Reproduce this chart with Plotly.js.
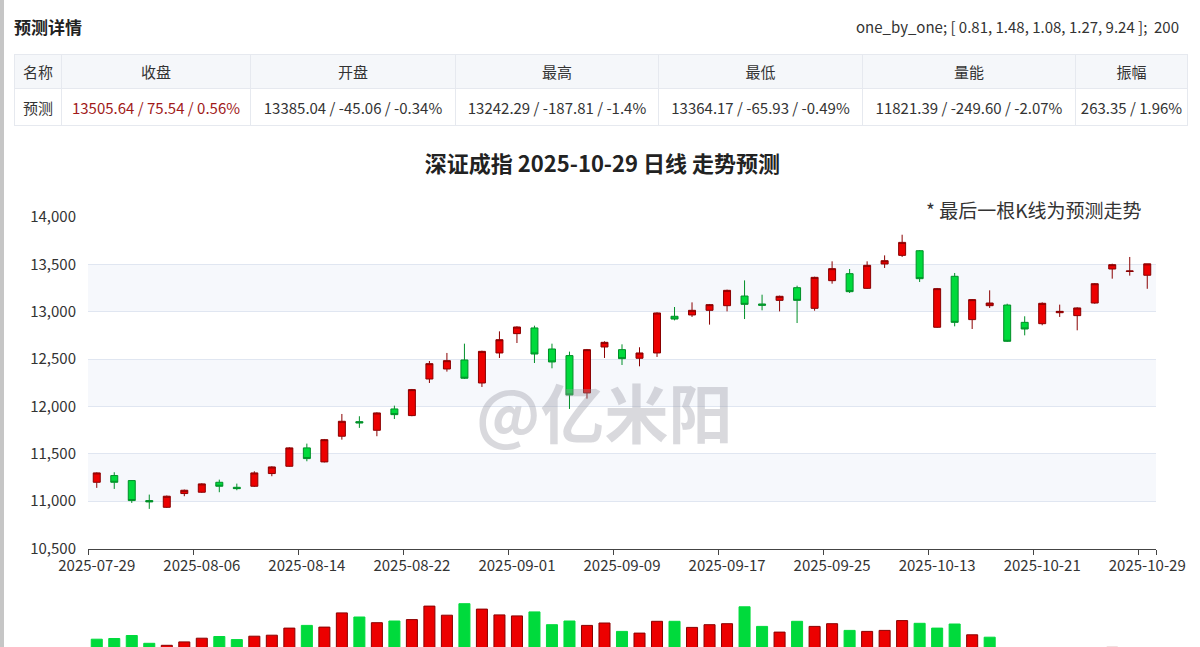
<!DOCTYPE html>
<html>
<head>
<meta charset="utf-8">
<script src="https://cdn.plot.ly/plotly-3.0.1.min.js"></script>
<style>
  html, body { margin: 0; padding: 0; width: 1200px; height: 647px; overflow: hidden; background: #fff;
    font-family: "Noto Sans CJK SC", "Noto Sans", sans-serif; }
  #edge { position: absolute; left: 0; top: 0; width: 4px; height: 647px; background: #c6c6c6; z-index: 5; }
  #head { position: absolute; left: 0; top: 0; width: 1200px; height: 130px; z-index: 4; }
  #head .ttl { position: absolute; left: 14px; top: 14px; font-size: 17px; font-weight: bold; color: #222; line-height: 26px; }
  #head .meta { position: absolute; right: 21px; top: 15px; font-size: 15px; color: #333; line-height: 24px; white-space: pre; }
  #fc { position: absolute; left: 14px; top: 54px; width: 1173px; border-collapse: collapse; table-layout: fixed;
    font-size: 15px; color: #333; }
  #fc th, #fc td { border: 1px solid #e6e9ef; text-align: center; padding: 0; font-weight: normal; white-space: nowrap; }
  #fc th { background: #f5f7fa; height: 33px; }
  #fc td { background: #fff; height: 36px; }
  #fc td.up { color: #a11a1a; }
  #chart { position: absolute; left: 0; top: 0; width: 1200px; height: 647px; }
</style>
</head>
<body>
<div id="chart"></div>
<div id="edge"></div>
<div id="head">
  <div class="ttl">预测详情</div>
  <div class="meta">one_by_one; [ 0.81, 1.48, 1.08, 1.27, 9.24 ];  200</div>
  <table id="fc"></table>
</div>
<script>
// 交易日
const dates = [
  '2025-07-29','2025-07-30','2025-07-31','2025-08-01','2025-08-04','2025-08-05','2025-08-06','2025-08-07',
  '2025-08-08','2025-08-11','2025-08-12','2025-08-13','2025-08-14','2025-08-15','2025-08-18','2025-08-19',
  '2025-08-20','2025-08-21','2025-08-22','2025-08-25','2025-08-26','2025-08-27','2025-08-28','2025-08-29',
  '2025-09-01','2025-09-02','2025-09-03','2025-09-04','2025-09-05','2025-09-08','2025-09-09','2025-09-10',
  '2025-09-11','2025-09-12','2025-09-15','2025-09-16','2025-09-17','2025-09-18','2025-09-19','2025-09-22',
  '2025-09-23','2025-09-24','2025-09-25','2025-09-26','2025-09-29','2025-09-30','2025-10-09','2025-10-10',
  '2025-10-13','2025-10-14','2025-10-15','2025-10-16','2025-10-17','2025-10-20','2025-10-21','2025-10-22',
  '2025-10-23','2025-10-24','2025-10-27','2025-10-28'
];
// 历史 K 线 (开, 高, 低, 收)
const opens = [
  11200, 11271, 11218, 11007, 10936, 11081, 11095, 11200, 11147, 11158, 11292, 11369, 11563, 11415, 11686, 11840,
  11749, 11974, 11904, 12290, 12396, 12491, 12248, 12565, 12769, 12829, 12607, 12537, 12143, 12628, 12600, 12509,
  12565, 12952, 12966, 13015, 13064, 13166, 13082, 13120, 13254, 13036, 13328, 13402, 13247, 13504, 13595, 13644,
  12836, 13374, 12917, 13064, 13071, 12888, 12874, 12990, 12959, 13092, 13451, 13425
];
const highs = [
  11305, 11306, 11222, 11070, 11060, 11123, 11190, 11228, 11186, 11316, 11369, 11570, 11608, 11657, 11921, 11897,
  11939, 12009, 12185, 12480, 12565, 12663, 12589, 12793, 12846, 12853, 12663, 12579, 12607, 12688, 12656, 12625,
  12994, 13050, 13099, 13082, 13233, 13331, 13180, 13170, 13275, 13370, 13532, 13451, 13532, 13595, 13813, 13651,
  13251, 13409, 13134, 13226, 13085, 12952, 13099, 13075, 13047, 13303, 13507, 13578
];
const lows = [
  11141, 11130, 10982, 10919, 10929, 11053, 11088, 11095, 11116, 11151, 11264, 11365, 11422, 11410, 11650, 11774,
  11686, 11868, 11897, 12248, 12368, 12290, 12206, 12512, 12670, 12459, 12403, 11974, 12083, 12512, 12438, 12424,
  12523, 12909, 12945, 12864, 13004, 12923, 13015, 13004, 12881, 13011, 13296, 13198, 13240, 13462, 13578, 13314,
  12830, 12846, 12818, 13040, 12681, 12751, 12857, 12945, 12804, 13085, 13349, 13381
];
const closes = [
  11299, 11200, 11007, 10993, 11053, 11116, 11183, 11158, 11133, 11299, 11362, 11563, 11450, 11650, 11844, 11826,
  11932, 11914, 12178, 12452, 12484, 12298, 12582, 12705, 12839, 12554, 12470, 12122, 12600, 12677, 12505, 12565,
  12987, 12923, 13015, 13075, 13226, 13078, 13068, 13163, 13120, 13363, 13455, 13212, 13490, 13539, 13732, 13349,
  13244, 12888, 13128, 13092, 12688, 12818, 13089, 13004, 13040, 13296, 13497, 13430.10
];
// 成交量能
const volumes = [
  13164, 13255, 13645, 12631, 12371, 12813, 13294, 13515, 13112, 13554, 13684, 14607, 14958, 14737, 16583, 16050,
  15309, 15530, 15712, 17467, 16284, 17779, 17077, 16323, 16193, 16713, 15049, 15530, 14958, 15270, 14178, 13957,
  15491, 15491, 14698, 15049, 15179, 17376, 14828, 14087, 15491, 14828, 15179, 14308, 14178, 14308, 15582, 15231,
  14607, 15140, 13736, 13424, 11950, 11600, 11450, 11200, 11500, 11900, 12100, 12070.99
];
const closeBefore = 11320; // 07-28 收盘

// 预测 (最后一根)
const fcDate = '2025-10-29';
const fcHeaders = ['名称', '收盘', '开盘', '最高', '最低', '量能', '振幅'];
const fcValues = [13505.64, 13385.04, 13242.29, 13364.17, 11821.39, 263.35];
const fcChanges = [75.54, -45.06, -187.81, -65.93, -249.60, null];
const fcPercents = ['0.56%', '-0.34%', '-1.4%', '-0.49%', '-2.07%', '1.96%'];

const yTicks = [10500, 11000, 11500, 12000, 12500, 13000, 13500, 14000];

// ---- 预测详情表格 ----
(function buildTable() {
  const widths = [47, 189, 205, 203, 204, 213, 112];
  const tbl = document.getElementById('fc');
  let html = '<colgroup>' + widths.map(w => '<col style="width:' + w + 'px">').join('') + '</colgroup>';
  html += '<tr>' + fcHeaders.map(h => '<th>' + h + '</th>').join('') + '</tr>';
  html += '<tr><td>预测</td>';
  fcValues.forEach((v, i) => {
    const parts = [v.toFixed(2)];
    if (fcChanges[i] !== null) parts.push(fcChanges[i].toFixed(2));
    parts.push(fcPercents[i]);
    const cls = (i === 0 && fcChanges[0] > 0) ? ' class="up"' : '';
    html += '<td' + cls + '>' + parts.join(' / ') + '</td>';
  });
  html += '</tr>';
  tbl.innerHTML = html;
})();

// ---- K 线数据 (含预测) ----
const allDates = dates.concat([fcDate]);
const fcOpen = fcValues[1], fcClose = fcValues[0];
const fcExt = [fcValues[2], fcValues[3], fcOpen, fcClose];
const allOpen = opens.concat([fcOpen]);
const allClose = closes.concat([fcClose]);
const allHigh = highs.concat([Math.max.apply(null, fcExt)]);
const allLow = lows.concat([Math.min.apply(null, fcExt)]);
const allVol = volumes.concat([fcValues[4]]);

const UP = '#ec0000', UP_BORDER = '#8a0000', DOWN = '#00da3c', DOWN_BORDER = '#008f28';

// 量能柱颜色按涨跌 (收盘 vs 前收)
const volFill = [], volLine = [];
allClose.forEach((c, i) => {
  const prev = i === 0 ? closeBefore : allClose[i - 1];
  const up = c >= prev;
  volFill.push(up ? UP : DOWN);
  volLine.push(up ? UP_BORDER : DOWN);
});

const candle = {
  type: 'candlestick',
  x: allDates, open: allOpen, high: allHigh, low: allLow, close: allClose,
  xaxis: 'x', yaxis: 'y',
  increasing: { fillcolor: UP, line: { color: UP_BORDER, width: 1 } },
  decreasing: { fillcolor: DOWN, line: { color: DOWN_BORDER, width: 1 } },
  whiskerwidth: 0,
  hoverinfo: 'skip'
};

const volBars = {
  type: 'bar',
  x: allDates, y: allVol,
  xaxis: 'x', yaxis: 'y2',
  width: 0.63,
  marker: { color: volFill, line: { color: volLine, width: 1 } },
  hoverinfo: 'skip'
};

const tickDates = allDates.filter((d, i) => i % 6 === 0);

// 纵轴间隔底纹
const bands = [];
for (let i = 1; i < yTicks.length - 1; i += 2) {
  bands.push({
    type: 'rect', layer: 'below', xref: 'x domain', x0: 0, x1: 1, yref: 'y', y0: yTicks[i], y1: yTicks[i + 1],
    fillcolor: 'rgba(210,219,238,0.2)', line: { width: 0 }
  });
}

const layout = {
  width: 1200, height: 647,
  margin: { l: 88, r: 44, t: 217, b: 0, pad: 0 },
  paper_bgcolor: 'rgba(0,0,0,0)', plot_bgcolor: '#fff',
  showlegend: false,
  dragmode: false,
  boxgap: 0.43,
  font: { family: '"Noto Sans CJK SC", "Noto Sans", sans-serif', size: 14, color: '#333' },
  title: {
    text: '深证成指 2025-10-29 日线 走势预测',
    x: 0.502, xref: 'container', xanchor: 'center',
    y: 1 - 164 / 647, yref: 'container', yanchor: 'middle',
    font: { size: 22, color: '#222', weight: 'bold' }
  },
  xaxis: {
    type: 'category', categoryorder: 'array', categoryarray: allDates,
    range: [-0.5, allDates.length - 0.5],
    tickmode: 'array', tickvals: tickDates, ticktext: tickDates,
    tickson: 'boundaries', ticks: 'outside', ticklen: 5, tickcolor: '#444', tickwidth: 1,
    tickangle: 0, ticklabelstandoff: 3,
    showline: true, linecolor: '#444', linewidth: 1,
    showgrid: false, zeroline: false,
    tickfont: { size: 15, color: '#333' },
    rangeslider: { visible: false },
    anchor: 'y', fixedrange: true
  },
  yaxis: {
    domain: [(647 - 548.6) / 430, 1],
    range: [yTicks[0], yTicks[yTicks.length - 1]],
    tickmode: 'array', tickvals: yTicks, tickformat: ',d',
    showgrid: true, gridcolor: '#e0e6f1', gridwidth: 1,
    zeroline: false, showline: false, ticks: '',
    ticklabelstandoff: 11,
    tickfont: { size: 15, color: '#333' },
    fixedrange: true
  },
  yaxis2: {
    domain: [0, (647 - 590) / 430],
    range: [12150, 19560],
    visible: false, showgrid: false, zeroline: false, fixedrange: true
  },
  shapes: bands,
  annotations: [
    {
      text: '* 最后一根K线为预测走势', showarrow: false,
      xref: 'paper', x: (1143 - 88) / 1068, xanchor: 'right',
      yref: 'paper', y: (647 - 209) / 430, yanchor: 'middle',
      font: { size: 19, color: '#333' }
    },
    {
      text: '@亿米阳', showarrow: false,
      xref: 'paper', x: (604 - 88) / 1068, xanchor: 'center',
      yref: 'paper', y: (647 - 410) / 430, yanchor: 'middle',
      font: { size: 64, color: 'rgba(150,150,160,0.36)', weight: 'bold' }
    }
  ]
};

Plotly.newPlot('chart', [candle, volBars], layout, { displayModeBar: false, staticPlot: true });
</script>
</body>
</html>
